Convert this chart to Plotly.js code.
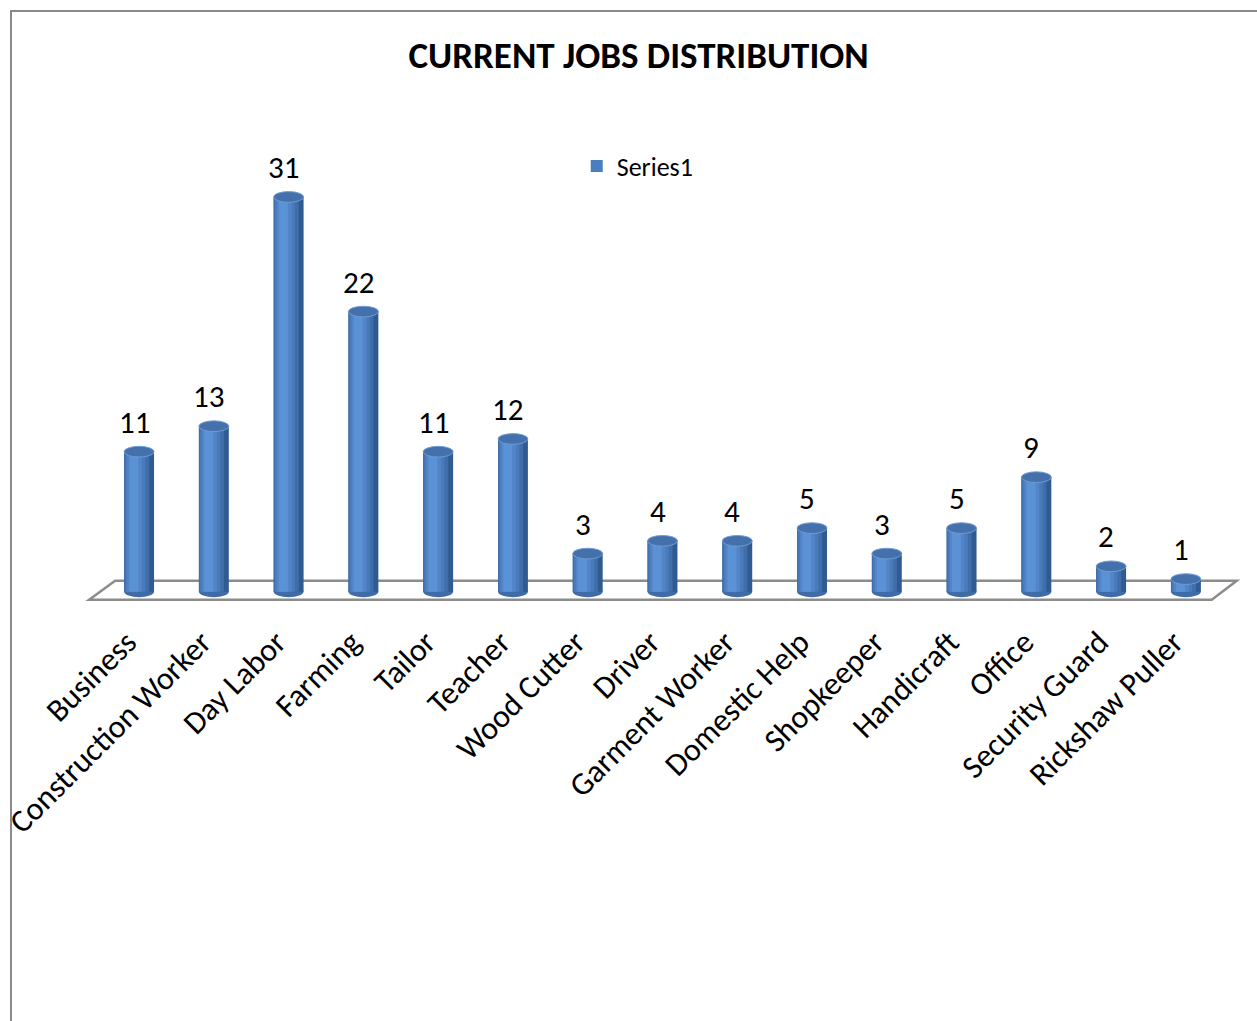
<!DOCTYPE html>
<html>
<head>
<meta charset="utf-8">
<script src="https://cdn.plot.ly/plotly-3.0.1.min.js"></script>
<style>
  html, body { margin: 0; padding: 0; background: #ffffff; }
  #wrap { position: relative; width: 1257px; height: 1021px; overflow: hidden; }
  #frame { position: absolute; left: 10px; top: 10px; width: 1260px; height: 1020px;
           border-left: 2px solid #8a8a8a; border-top: 2px solid #8a8a8a; box-sizing: border-box; }
  #chart { position: absolute; left: 0; top: 0; width: 1257px; height: 1021px; }
</style>
</head>
<body>
<div id="wrap">
  <div id="frame"></div>
  <div id="chart"></div>
</div>
<script>
// ---- data ----
const categories = ["Business", "Construction Worker", "Day Labor", "Farming", "Tailor", "Teacher",
  "Wood Cutter", "Driver", "Garment Worker", "Domestic Help", "Shopkeeper", "Handicraft",
  "Office", "Security Guard", "Rickshaw Puller"];
const values = [11, 13, 31, 22, 11, 12, 3, 4, 4, 5, 3, 5, 9, 2, 1];
const seriesName = "Series1";
const chartTitle = "CURRENT JOBS DISTRIBUTION";

// ---- styling ----
const FONT = "Carlito, Lato, 'Open Sans', sans-serif";
const idx = categories.map((c, i) => i);

// cylinder shading layers: [offset, width, color]
const layers = [
  [-0.20, 0.40, "#305b91"],
  [-0.20, 0.335, "#3f6eaa"],
  [-0.185, 0.27, "#497aba"],
  [-0.16, 0.20, "#5285c8"],
  [-0.13, 0.12, "#5b91d5"]
];

const traces = layers.map((L, k) => ({
  type: "bar",
  x: idx,
  y: values,
  offset: L[0],
  width: L[1],
  marker: { color: L[2], line: { width: 0 } },
  name: seriesName,
  showlegend: false,
  hoverinfo: "skip"
}));
// legend entry
traces.push({
  type: "bar", x: [null], y: [null], name: seriesName, showlegend: true,
  marker: { color: "#4a7ebf" }
});

const shapes = [];
// floor plane
shapes.push({
  type: "path", xref: "x", yref: "y", layer: "below",
  path: "M -0.668,-0.63 L -0.32,0.86 L 14.68,0.86 L 14.345,-0.63 Z",
  line: { color: "#8c8c8c", width: 2.5 }, fillcolor: "#ffffff"
});
// bottom and top caps of each cylinder
idx.forEach((i) => {
  shapes.push({
    type: "circle", xref: "x", yref: "y", layer: "below",
    x0: i - 0.20, x1: i + 0.20, y0: -0.42, y1: 0.42,
    fillcolor: "#3f6ca6", line: { width: 0 }
  });
  shapes.push({
    type: "circle", xref: "x", yref: "y", layer: "above",
    x0: i - 0.20, x1: i + 0.20, y0: values[i] - 0.42, y1: values[i] + 0.42,
    fillcolor: "#4470ab", line: { color: "#6f9bd3", width: 1 }
  });
});

const annotations = idx.map((i) => ({
  x: i, y: values[i], xref: "x", yref: "y",
  text: String(values[i]), showarrow: false,
  yshift: 30, xshift: -5, xanchor: "center", yanchor: "middle",
  font: { family: FONT, size: 31, color: "#000000" }
}));

const layout = {
  width: 1257, height: 1021,
  paper_bgcolor: "rgba(0,0,0,0)", plot_bgcolor: "rgba(0,0,0,0)",
  margin: { l: 83, r: 14.7, t: 145.75, b: 418.8 },
  barmode: "overlay",
  title: {
    text: "<b>" + chartTitle + "</b>",
    xref: "container", yref: "container", x: 0.508, y: 0.946,
    xanchor: "center", yanchor: "middle",
    font: { family: FONT, size: 37, color: "#000000" }
  },
  showlegend: true,
  legend: {
    x: 0.426, y: 0.956, xanchor: "left", yanchor: "middle",
    xref: "paper", yref: "paper",
    bgcolor: "rgba(0,0,0,0)",
    font: { family: FONT, size: 26, color: "#000000" }
  },
  xaxis: {
    range: [-0.75, 14.75],
    tickmode: "array", tickvals: idx, ticktext: categories,
    tickangle: -45, showgrid: false, zeroline: false, showline: false,
    ticks: "", ticklabelstandoff: 14, ticklabelshift: -12,
    tickfont: { family: FONT, size: 32, color: "#000000" },
    fixedrange: true
  },
  yaxis: {
    range: [-0.8, 35],
    showgrid: false, zeroline: false, showline: false, showticklabels: false,
    ticks: "", fixedrange: true
  },
  shapes: shapes,
  annotations: annotations
};

Plotly.newPlot("chart", traces, layout, { displayModeBar: false, staticPlot: true });
</script>
</body>
</html>
